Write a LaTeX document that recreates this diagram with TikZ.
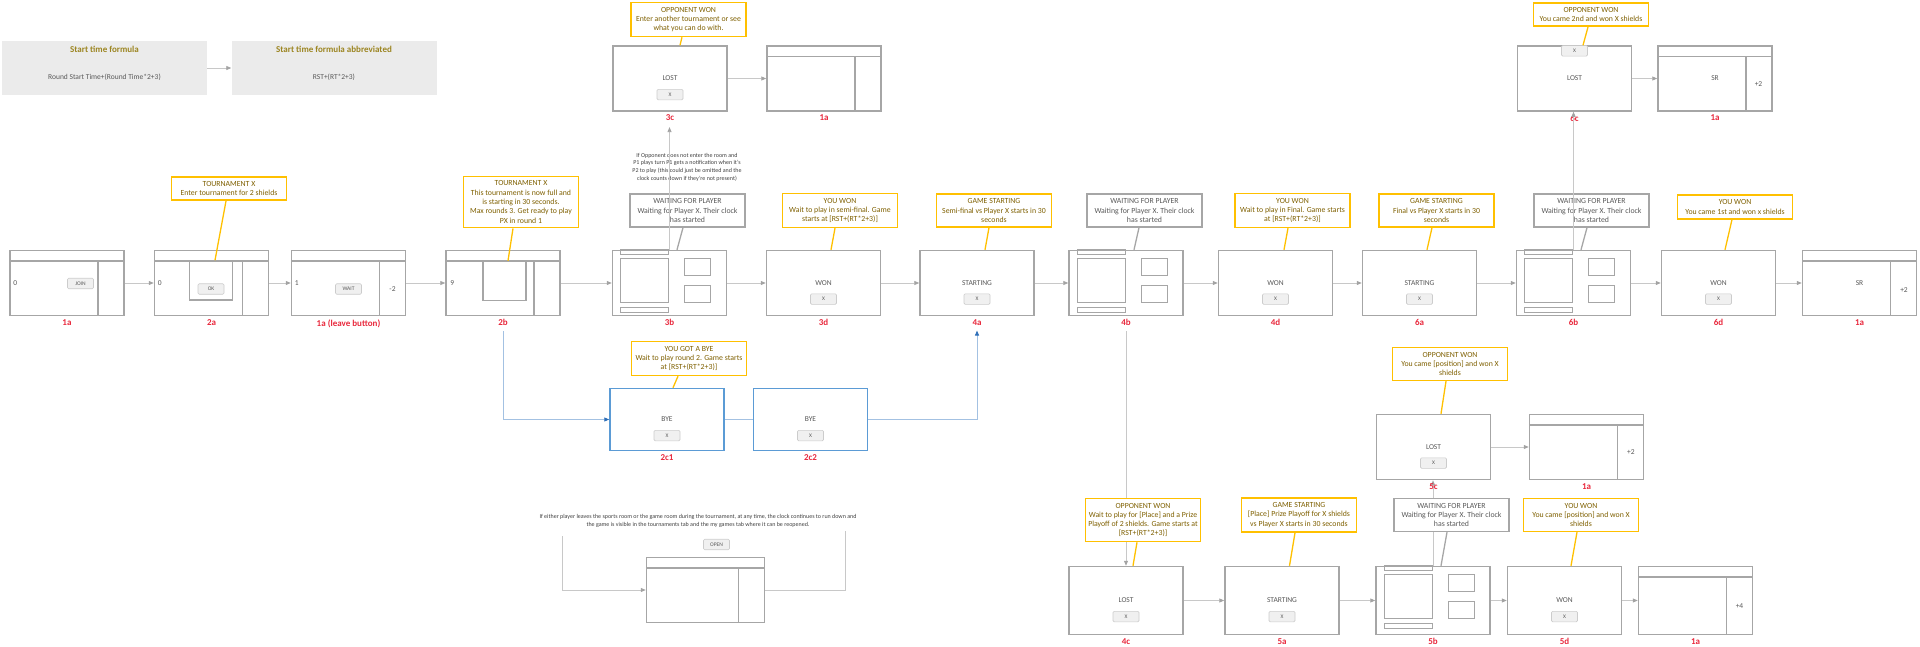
\documentclass[tikz,border=0pt]{standalone}
\usepackage{fontspec}
\setmainfont{Carlito}
\usepackage{tikz}
\usetikzlibrary{positioning, arrows.meta}

\definecolor{scrgray}{HTML}{A6A6A6}
\definecolor{conngray}{HTML}{C8C8C8}
\definecolor{tipgray}{HTML}{A3A3A3}
\definecolor{amber}{HTML}{FFC000}
\definecolor{olive}{HTML}{7F6000}
\definecolor{titleolive}{HTML}{9C8521}
\definecolor{txtgray}{HTML}{595959}
\definecolor{tagred}{HTML}{E8283C}
\definecolor{byeblue}{HTML}{5B9BD5}
\definecolor{byeline}{HTML}{A3C1E2}
\definecolor{tipblue}{HTML}{2F6FB8}
\definecolor{formfill}{HTML}{EBEBEB}
\definecolor{btnfill}{HTML}{F0F0F0}
\definecolor{btnline}{HTML}{CCCCCC}

\begin{document}
\begin{tikzpicture}[x=1pt, y=-1pt,
    scr/.style={draw=scrgray, line width=1.5pt},
    screen/.style={scr, fill=white, minimum width=114, minimum height=65, inner sep=0pt, text=txtgray, font=\fontsize{7.5}{9}\selectfont},
    byescreen/.style={screen, draw=byeblue, minimum height=62},
    dlg/.style={scr, minimum width=43, minimum height=39, inner sep=0pt},
    scrtxt/.style={text=txtgray, font=\fontsize{7.5}{9}\selectfont, inner sep=1pt},
    btn/.style={draw=btnline, fill=btnfill, rounded corners=1.2pt, line width=0.6pt, minimum width=26, minimum height=10.5, inner sep=0pt, text=txtgray, font=\fontsize{5.5}{6}\selectfont},
    callout/.style={draw=amber, line width=1.6pt, fill=white, text=olive, align=center, font=\fontsize{7.8}{9.3}\selectfont, minimum width=115, inner xsep=2pt, inner ysep=4.5pt},
    waitcall/.style={callout, draw=scrgray, text=txtgray},
    ptr/.style={draw=amber, line width=1.3pt},
    gptr/.style={draw=scrgray, line width=1.3pt},
    conn/.style={draw=conngray, line width=0.8pt, -{Triangle[length=5pt, width=4pt, color=tipgray]}},
    bconn/.style={draw=byeline, line width=0.9pt, -{Triangle[length=5pt, width=4pt, color=tipblue]}},
    tag/.style={text=tagred, font=\bfseries\fontsize{9}{10}\selectfont, inner sep=1pt},
    note/.style={text=black!75, align=center, font=\fontsize{6}{7.6}\selectfont, inner sep=0pt},
    formbox/.style={fill=formfill, minimum width=205, minimum height=54, inner sep=0pt},
    formtitle/.style={text=titleolive, font=\bfseries\fontsize{9}{10}\selectfont, inner sep=0pt},
    formtext/.style={text=txtgray, font=\fontsize{7.5}{8}\selectfont, inner sep=0pt}
]

\useasboundingbox (0,0) rectangle (1920,646);

% start time formula
\node[formbox] (fA) at (104.5,68) {};
\node[formbox] (fB) at (334,68) {};
\node[formtitle, below=5pt of fA.north] (fAt) {Start time formula};
\node[formtext, above=14pt of fA.south] (fAf) {Round Start Time+(Round Time*2+3)};
\node[formtitle, below=5pt of fB.north] (fBt) {Start time formula abbreviated};
\node[formtext, above=14pt of fB.south] (fBf) {RST+(RT*2+3)};
\draw[conn] (fA) -- (fB);

% draw the screens

%% row 1
\node[screen] (s1a)    at (67,283)     {};
\node[screen] (s2a)    at (211.5,283)  {};
\node[screen] (s1al)   at (348.5,283)  {};
\node[screen] (s2b)    at (503,283)    {};
\node[screen] (s3b)    at (669.5,283)  {};
\node[screen] (s3d)    at (823.5,283)  {WON};
\node[screen] (s4a)    at (977,283)    {STARTING};
\node[screen] (s4b)    at (1126,283)   {};
\node[screen] (s4d)    at (1275.5,283) {WON};
\node[screen] (s6a)    at (1419.5,283) {STARTING};
\node[screen] (s6b)    at (1573.5,283) {};
\node[screen] (s6d)    at (1718.5,283) {WON};
\node[screen] (s1aend) at (1859.5,283) {SR};

%% top row
\node[screen] (s3c)    at (670,78.5)    {LOST};
\node[screen] (s1atop) at (824,78.5)    {};
\node[screen] (s6c)    at (1574.5,78.5) {LOST};
\node[screen] (s1asr)  at (1715,78.5)   {SR};

%% byes
\node[byescreen] (s2c1) at (667,419.5)   {BYE};
\node[byescreen] (s2c2) at (810.5,419.5) {BYE};

%% playoff
\node[screen] (s5c)    at (1433.5,447) {LOST};
\node[screen] (s1atwo) at (1586.5,447) {};
\node[screen, minimum height=68] (s4c)    at (1126,600.5)   {LOST};
\node[screen, minimum height=68] (s5a)    at (1282,600.5)   {STARTING};
\node[screen, minimum height=68] (s5b)    at (1433,600.5)   {};
\node[screen, minimum height=68] (s5d)    at (1564.5,600.5) {WON};
\node[screen, minimum height=68] (s1afour) at (1695.5,600.5) {};

%% leaving the room
\node[screen, minimum width=118] (sopen) at (705.5,590) {};

% screen details

%% header and side panel
\foreach \s in {s1a,s2a,s1al,s2b,s1atop,s1asr,s1aend,s1atwo,s1afour,sopen}{
    \draw[scr] ([shift={(0,11)}]\s.north west) -- ([shift={(0,11)}]\s.north east);
    \draw[scr] ([shift={(-27,11)}]\s.north east) -- ([shift={(-27,0)}]\s.south east);
}

%% game board
\foreach \s in {s3b,s4b,s6b,s5b}{
    \draw[scr, line width=1.3pt] ([shift={(9,0)}]\s.north west) rectangle ([shift={(57,5)}]\s.north west);
    \draw[scr, line width=1.3pt] ([shift={(9,9)}]\s.north west) rectangle ([shift={(57,53)}]\s.north west);
    \draw[scr, line width=1.3pt] ([shift={(73,9)}]\s.north west) rectangle ([shift={(99,26)}]\s.north west);
    \draw[scr, line width=1.3pt] ([shift={(73,36)}]\s.north west) rectangle ([shift={(99,53)}]\s.north west);
    \draw[scr, line width=1.3pt] ([shift={(9,58)}]\s.north west) rectangle ([shift={(57,63)}]\s.north west);
}

%% dialogs
\node[dlg] (d2a) at (211,280.5) {};
\node[dlg] (d2b) at (504.5,281) {};

%% texts and buttons
\node[scrtxt, right=3pt of s1a.west]  (n1a)  {0};
\node[scrtxt, right=3pt of s2a.west]  (n2a)  {0};
\node[scrtxt, right=3pt of s1al.west] (n1al) {1};
\node[scrtxt, right=4pt of s2b.west]  (n2b)  {9};
\node[scrtxt] (m1al)   at (392.5,289) {-2};
\node[scrtxt] (m1asr)  at (1758.5,84) {+2};
\node[scrtxt] (m1aend) at (1904,290)  {+2};
\node[scrtxt] (m1atwo) at (1631,452)  {+2};
\node[scrtxt] (m1afour) at (1739.5,606) {+4};

\node[btn] (bjoin) at (80.5,283.5) {JOIN};
\node[btn] (bok)   at (211,289)    {OK};
\node[btn] (bwait) at (348.5,289)  {WAIT};
\node[btn] (bopen) at (716.5,544.5) {OPEN};
\foreach \s in {s3c,s3d,s4a,s4d,s6a,s6d,s2c1,s2c2,s4c,s5a,s5d,s5c}
    \node[btn, below=10.5pt of \s.center] (x\s) {X};
\node[btn, below=0pt of s6c.north] (xs6c) {X};

% connectors
\foreach \a/\b in {s1a/s2a, s2a/s1al, s1al/s2b, s2b/s3b, s3b/s3d, s3d/s4a, s4a/s4b, s4b/s4d, s4d/s6a, s6a/s6b, s6b/s6d, s6d/s1aend, s3c/s1atop, s6c/s1asr, s5c/s1atwo, s4c/s5a, s5a/s5b, s5b/s5d, s5d/s1afour}
    \draw[conn] (\a) -- (\b);

\draw[conn] (s5b.north) -- (s5b.north |- s5c.south);

%% leaving the room
\node[note] (nleave) at (698,521) {If either player leaves the sports room or the game room during the tournament, at any time, the clock continues to run down and\\the game is visible in the tournaments tab and the my games tab where it can be reopened.};
\coordinate (ql) at (562,536);
\coordinate (qr) at (845,531);
\draw[conn] (ql) |- (sopen.west);
\draw[conn, -] (qr) |- (sopen.east);

% labels
\foreach \s/\t in {s1a/1a, s2a/2a, s1al/{1a (leave button)}, s2b/2b, s3b/3b, s3d/3d, s4a/4a, s4b/4b, s4d/4d, s6a/6a, s6b/6b, s6d/6d, s1aend/1a, s3c/3c, s1atop/1a, s6c/6c, s1asr/1a, s2c1/2c1, s2c2/2c2, s5c/5c, s1atwo/1a, s4c/4c, s5a/5a, s5b/5b, s5d/5d, s1afour/1a}
    \node[tag, below=2pt of \s] (l\s) {\t};

%% byes
\draw[bconn, shorten <=4pt] (ls2b.south) |- (s2c1.west);
\draw[byeline, line width=0.9pt] (s2c1.east) -- (s2c2.west);
\draw[bconn, shorten >=4pt] (s2c2.east) -| (ls4a.south);

%% lost games
\draw[conn, shorten <=4pt] (ls4b.south) -- (ls4b.south |- s4c.north);

% callouts
\node[callout] (cTourn) at (229,188.5) {TOURNAMENT X\\Enter tournament for 2 shields};
\node[callout] (cFull)  at (521,202)   {TOURNAMENT X\\This tournament is now full and\\is starting in 30 seconds.\\Max rounds 3. Get ready to play\\PX in round 1};
\node[callout] (c3c)    at (688.5,19.5) {OPPONENT WON\\Enter another tournament or see\\what you can do with.};
\node[waitcall] (cWait3b) at (687.5,210.5) {WAITING FOR PLAYER\\Waiting for Player X. Their clock\\has started};
\node[callout] (c3d)    at (840,210.5)  {YOU WON\\Wait to play in semi-final. Game\\starts at [RST+(RT*2+3)]};
\node[callout] (c4a)    at (994,210.5)  {GAME STARTING\\Semi-final vs Player X starts in 30\\seconds};
\node[waitcall] (cWait4b) at (1144.5,210.5) {WAITING FOR PLAYER\\Waiting for Player X. Their clock\\has started};
\node[callout] (c4d)    at (1292.5,210.5) {YOU WON\\Wait to play in Final. Game starts\\at [RST+(RT*2+3)]};
\node[callout] (c6a)    at (1436.5,210.5) {GAME STARTING\\Final vs Player X starts in 30\\seconds};
\node[waitcall] (cWait6b) at (1591.5,210.5) {WAITING FOR PLAYER\\Waiting for Player X. Their clock\\has started};
\node[callout] (c6d)    at (1735,207)   {YOU WON\\You came 1st and won x shields};
\node[callout] (c6c)    at (1591,14.5)  {OPPONENT WON\\You came 2nd and won X shields};
\node[callout] (cBye)   at (689,358.5)  {YOU GOT A BYE\\Wait to play round 2. Game starts\\at [RST+(RT*2+3)]};
\node[callout] (c5c)    at (1450,364)   {OPPONENT WON\\You came [position] and won X\\shields};
\node[callout] (c4c)    at (1143,520)   {OPPONENT WON\\Wait to play for [Place] and a Prize\\Playoff of 2 shields. Game starts at\\{[RST+(RT*2+3)]}};
\node[callout] (c5a)    at (1299,515)   {GAME STARTING\\{[Place]} Prize Playoff for X shields\\vs Player X starts in 30 seconds};
\node[waitcall] (cWait5b) at (1451.5,515) {WAITING FOR PLAYER\\Waiting for Player X. Their clock\\has started};
\node[callout] (c5d)    at (1581,515)   {YOU WON\\You came [position] and won X\\shields};

%% pointers
\foreach \c/\s/\a/\b in {cTourn/d2a/-3/4, cFull/d2b/-8/3.5, c3c/s3c/-6.5/10, c3d/s3d/-5/7.5, c4a/s4a/-5/8, c4d/s4d/-4.5/8.5, c6a/s6a/-4.5/7.5, c6d/s6d/-3/6.5, c6c/s6c/-3/8.5, cBye/s2c1/-11/6, c5c/s5c/-4/7.5, c4c/s4c/-6/7, c5a/s5a/-4/7.5, c5d/s5d/-4/6.5}
    \draw[ptr] ([xshift=\a pt]\c.south) -- ([xshift=\b pt]\s.north);
\foreach \c/\s/\a/\b in {cWait3b/s3b/-4.5/7.5, cWait4b/s4b/-5.5/8, cWait6b/s6b/-4.5/7.5, cWait5b/s5b/-4.5/8}
    \draw[gptr] ([xshift=\a pt]\c.south) -- ([xshift=\b pt]\s.north);

%% if the opponent is away
\node[note] (naway) at (687,167) {If Opponent does not enter the room and\\P1 plays turn P1 gets a notification when it's\\P2 to play (this could just be omitted and the\\clock counts down if they're not present)};
\draw[conn, shorten >=5pt] (s3b.north) -- (s3b.north |- ls3c.south);
\draw[conn] (s6b.north) -- (s6b.north |- s6c.south);

\end{tikzpicture}
\end{document}
